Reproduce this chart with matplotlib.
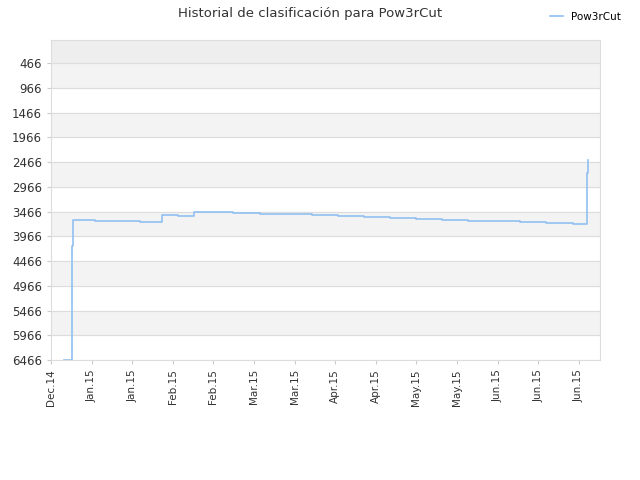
import matplotlib
matplotlib.use("Agg")
import matplotlib.pyplot as plt

# x positions in days from Dec.14 tick, y = rank
days = [4.8, 7.8, 7.8, 8.1, 16.3, 32.9, 41.0, 46.9, 52.8, 58.0, 67.2, 77.2, 86.8, 96.4, 106.0, 115.6, 125.3, 134.9, 144.5, 154.1, 163.7, 173.3, 182.9, 192.9, 198.0, 198.0, 198.3]
ranks = [6466, 6466, 4170, 3640, 3650, 3670, 3530, 3550, 3470, 3480, 3495, 3510, 3525, 3540, 3560, 3575, 3590, 3610, 3630, 3650, 3665, 3680, 3700, 3715, 3715, 2680, 2430]
tick_labels = ["Dec.14", "Jan.15", "Jan.15", "Feb.15", "Feb.15", "Mar.15", "Mar.15",
               "Apr.15", "Apr.15", "May.15", "May.15", "Jun.15", "Jun.15", "Jun.15"]
yticks = list(range(466, 6467, 500))

fig = plt.figure(figsize=(6.4, 4.8), dpi=100)
ax = fig.add_axes([51/640, 1-360/480, 549/640, 320/480])
ax.set_ylim(6466, 0)
ax.set_xlim(0, 549/40.6*15)
ax.axhspan(0, 466, color="#eeeeee", zorder=0)
for i, y in enumerate(yticks[:-1]):
    if i % 2 == 0:
        ax.axhspan(y, y+500, color="#f3f3f3", zorder=0)
for y in yticks:
    ax.axhline(y, color="#dddddd", lw=0.8, zorder=1)
ax.step(days, ranks, where="post", color="#90c0f0", lw=1.2, label="Pow3rCut", zorder=2)
ax.set_yticks(yticks)
ax.set_yticklabels([str(v) for v in yticks], fontsize=8.5, color="#333333")
ax.set_xticks([i*15 for i in range(len(tick_labels))])
ax.set_xticklabels(tick_labels, rotation=90, fontsize=7.5, color="#333333")
ax.tick_params(length=3, color="#cccccc")
for s in ax.spines.values():
    s.set_color("#dddddd")
fig.text(0.485, 0.972, "Historial de clasificación para Pow3rCut", ha="center", va="center", fontsize=9.5, color="#333333")
fig.legend(loc="upper right", bbox_to_anchor=(0.985, 0.995), frameon=False, fontsize=7.5, handlelength=1.2)
fig.savefig("out.png", dpi=100)
